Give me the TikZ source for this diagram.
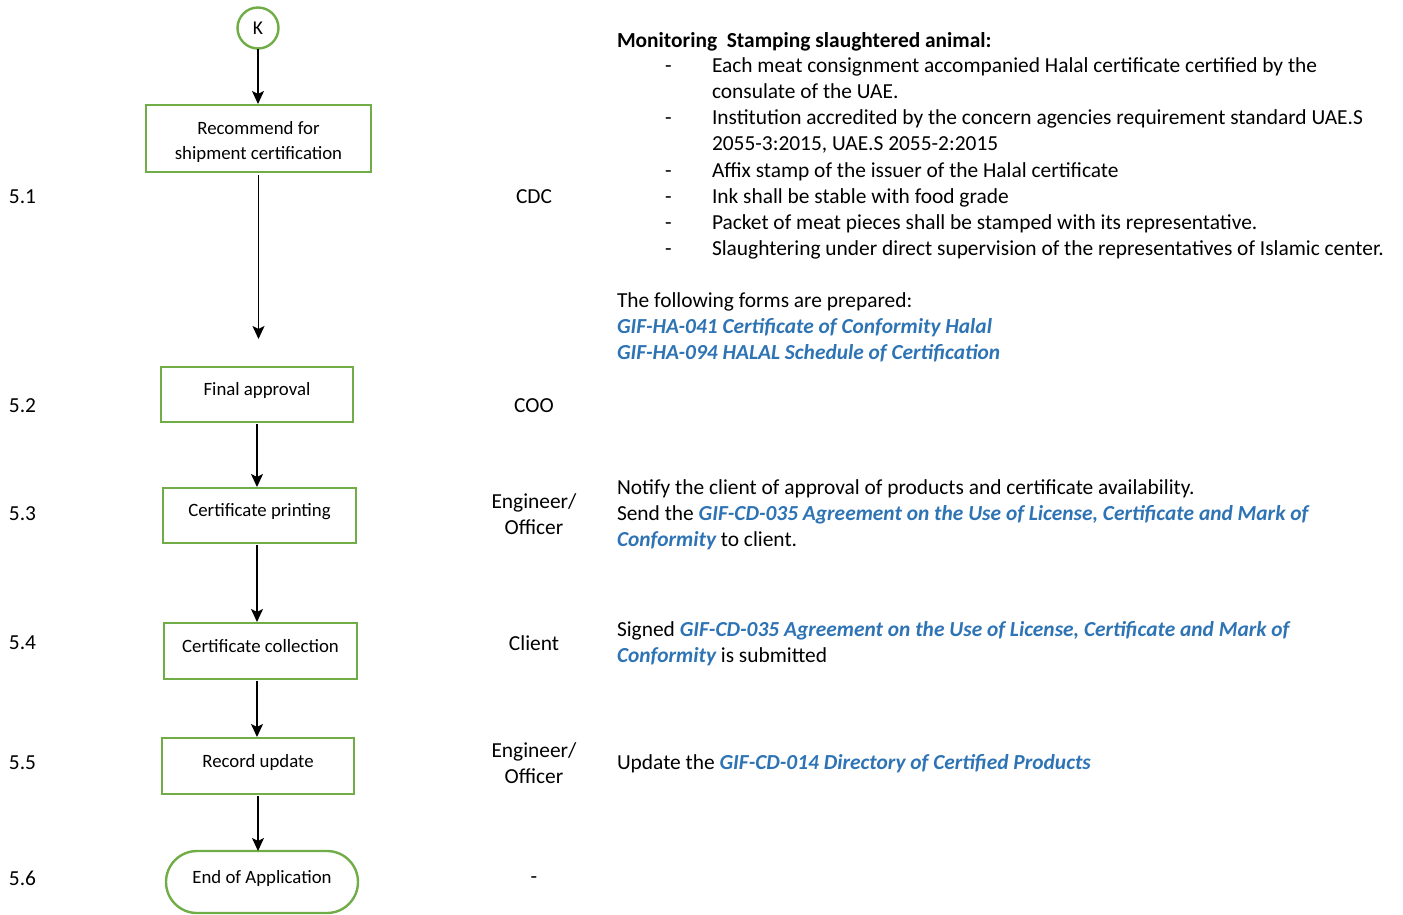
\documentclass[tikz,border=0pt]{standalone}
\usepackage{fontspec}
\setmainfont{Carlito}
\usetikzlibrary{arrows.meta,shapes.misc}
\definecolor{gbox}{HTML}{70AD47}
\definecolor{lnk}{HTML}{2E74B5}
\newcommand{\frm}[1]{\textcolor{lnk}{\bfseries\itshape #1}}
\tikzset{
  every node/.style={inner sep=0pt,outer sep=0pt},
  procbox/.style={draw=gbox,line width=2.4pt,fill=white,align=center,font=\fontsize{18.8}{25}\selectfont,inner sep=0pt},
  onel/.style={text depth=11pt},
  conn/.style={line width=1.3pt,-{Stealth[length=13pt,width=12pt,inset=3pt]}},
  num/.style={anchor=west,font=\fontsize{21.4}{26}\selectfont},
  role/.style={align=center,font=\fontsize{21.4}{26}\selectfont},
  txt/.style={anchor=base west,font=\fontsize{21.4}{26}\selectfont},
}
\begin{document}
\begin{tikzpicture}[x=1pt,y=-1pt]
\useasboundingbox (0,0) rectangle (1403,914);
% flow
\node[draw=gbox,line width=2.4pt,circle,minimum size=41pt,font=\fontsize{19.5}{20}\selectfont] (k) at (258,28) {K};
\node[procbox,minimum width=225pt,minimum height=67pt] (b1) at (258.5,138.5) {};
\node[align=center,font=\fontsize{18.8}{25}\selectfont] (b1t) at (258.5,141.5) {Recommend for\\shipment certification};
\coordinate (e1) at (258.5,339);
\node[procbox,onel,minimum width=192pt,minimum height=55pt] (b2) at (257,394.5) {Final approval};
\node[procbox,onel,minimum width=193pt,minimum height=55pt] (b3) at (259.5,515.5) {Certificate printing};
\node[procbox,onel,minimum width=193pt,minimum height=56pt] (b4) at (260.5,651) {Certificate collection};
\node[procbox,onel,minimum width=192pt,minimum height=56pt] (b5) at (258,766) {Record update};
\node[procbox,onel,rounded rectangle,minimum width=192pt,minimum height=62pt] (b6) at (262,882) {End of Application};
\draw[conn] (k) -- (258,104);
\draw[conn] ([yshift=-3pt]b1.south) -- (e1);
\draw[conn] (257,424) -- (257,487);
\draw[conn] (257,545) -- (257,622);
\draw[conn] (257,681) -- (257,737);
\draw[conn] (258,796) -- (258,851);
% numbers
\node[num] (n1) at (9,197) {5.1};
\node[num] (n2) at (9,406) {5.2};
\node[num] (n3) at (9,514) {5.3};
\node[num] (n4) at (9,643) {5.4};
\node[num] (n5) at (9,763) {5.5};
\node[num] (n6) at (9,878) {5.6};
% roles
\node[role] (r1) at (534,197) {CDC};
\node[role] (r2) at (534,406) {COO};
\node[role] (r3) at (534,514) {Engineer/\\Officer};
\node[role] (r4) at (534,643) {Client};
\node[role] (r5) at (534,763) {Engineer/\\Officer};
\node[role] (r6) at (534,880) {-};
% right column
\node[txt] (t0) at (617,47) {\textbf{Monitoring\ \ Stamping slaughtered animal:}};
\foreach \y/\d/\t in {72/-/{Each meat consignment accompanied Halal certificate certified by the},
  98//{consulate of the UAE.},
  124/-/{Institution accredited by the concern agencies requirement standard UAE.S},
  150//{2055-3:2015, UAE.S 2055-2:2015},
  177/-/{Affix stamp of the issuer of the Halal certificate},
  203/-/{Ink shall be stable with food grade},
  229/-/{Packet of meat pieces shall be stamped with its representative.},
  255/-/{Slaughtering under direct supervision of the representatives of Islamic center.}}{
  \node[txt] at (665,\y) {\d};
  \node[txt] at (712,\y) {\t};
}
\node[txt] (f0) at (617,307) {The following forms are prepared:};
\node[txt] (f1) at (617,333) {\frm{GIF-HA-041 Certificate of Conformity Halal}};
\node[txt] (f2) at (617,359) {\frm{GIF-HA-094 HALAL Schedule of Certification}};
\node[txt] (p1) at (617,494) {Notify the client of approval of products and certificate availability.};
\node[txt] (p2) at (617,520) {Send the \frm{GIF-CD-035 Agreement on the Use of License, Certificate and Mark of}};
\node[txt] (p3) at (617,546) {\frm{Conformity} to client.};
\node[txt] (s1) at (617,636) {Signed \frm{GIF-CD-035 Agreement on the Use of License, Certificate and Mark of}};
\node[txt] (s2) at (617,662) {\frm{Conformity} is submitted};
\node[txt] (u1) at (617,769) {Update the \frm{GIF-CD-014 Directory of Certified Products}};
\end{tikzpicture}
\end{document}
